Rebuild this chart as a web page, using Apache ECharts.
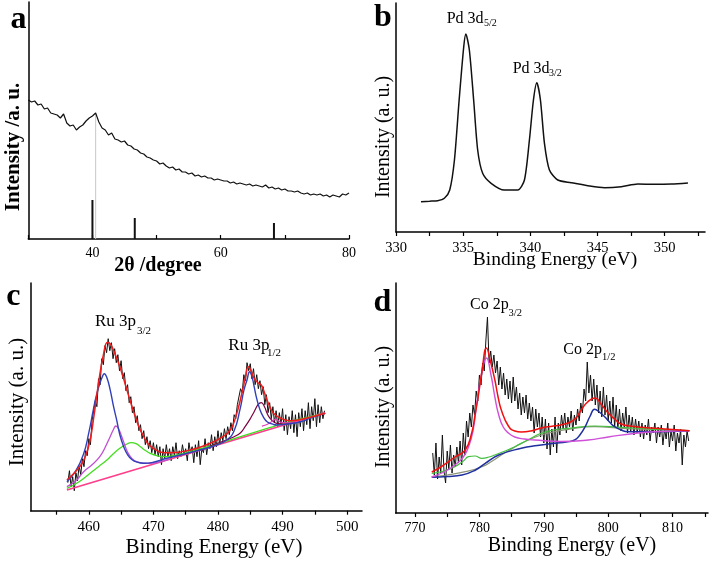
<!DOCTYPE html>
<html><head><meta charset="utf-8">
<script src="https://cdn.jsdelivr.net/npm/echarts@6/dist/echarts.min.js"></script>
<style>html,body{margin:0;padding:0;background:#fff}#c{width:713px;height:562px}</style>
</head><body><div id="c"></div>
<script>
// ---------- Panel a : XRD ----------
const xrdStart = 30, xrdStep = 0.5;
const xrdIntensity = [
 139,137,138,134,135,130,131,126,125,124,
 121,125,116,113,114,109,112,114,118,121,
 123,126,117,111,109,104,106,100,99,97,
 98,94,93,90,89,86,85,82,81,79,
 78,75,76,73,71,72,69,70,67,67,
 65,66,63,64,62,63,61,61,59,60,
 59,58,58,56,57,55,56,55,54,55,
 53,54,53,52,54,51,52,50,51,49,
 50,48,48,47,48,46,45,46,44,45,
 44,45,43,44,42,44,43,42,45,44,
 46];
const xrdRefPos = [40.0, 46.6, 68.3];
const xrdRefHeight = [39, 21, 16];
const xrdGuideX = 40.5, xrdGuideTop = 125;
const xrdTicks = [30,40,50,60,70,80];
const xrdLabels = [40,60,80];

// ---------- Panel b : Pd 3d ----------
const pdEnergy = [331.86,332.5,333.1,333.6,334.0,334.35,334.7,335.04,335.2,335.46,335.78,336.08,336.45,337.08,338.07,339.06,339.56,339.93,340.23,340.48,340.75,341.05,341.42,342.04,343.04,344.28,345.52,346.77,348,349.25,350.5,351.73];
const pdIntensity = [30.3,30.8,31.3,33.7,42,72,132,185,198,182,132,82,58.7,48.7,42,42,52,92,132,149.3,132,88.7,62,52,49.3,46.3,44.3,45.3,48,47.7,48,49];
const pdTicks = [330,332.5,335,337.5,340,342.5,345,347.5,350,352.5];
const pdLabels = [330,335,340,345,350];

// ---------- Panel c : Ru 3p ----------
const ruStart = 456.75, ruStep = 0.25;
const ruRaw = [
 28,40,24,34,20,38,30,45,36,52,
 44,60,55,72,66,90,88,110,104,132,
 126,152,146,165,158,172,160,168,152,162,
 148,156,140,150,132,138,120,126,108,114,
 98,104,88,95,80,86,72,80,66,74,
 62,70,58,68,56,66,54,64,46,62,
 52,66,54,62,50,64,55,68,52,60,
 54,66,56,62,50,68,58,64,48,66,
 54,70,46,62,58,72,56,68,62,76,
 60,74,64,80,66,78,70,82,72,84,
 76,88,80,96,92,106,104,122,118,136,
 130,148,140,147,132,142,126,136,122,130,
 116,124,106,116,98,108,92,104,88,100,
 84,98,86,102,80,96,76,94,82,100,
 78,96,74,98,84,102,80,100,86,108,
 82,104,90,112,84,106,88,104,92,100];
const ruEnvelope = [[456.6,30.7],[458.6,44],[459.5,55],[460.2,70.7],[460.8,95],[461.5,127.4],[462.3,157.4],[462.9,168.4],[463.3,167],[463.8,160.7],[464.8,144],[465.9,120.7],[467.2,94],[468.5,74],[470,62.4],[472.1,58],[475.7,60.7],[478.8,67.4],[480.5,73],[481.9,80.7],[482.8,95],[483.7,117.4],[484.3,135],[484.7,144],[485.1,140],[485.6,132.4],[486.2,128],[486.7,125.7],[487.2,118],[487.6,110.7],[488.1,103],[488.6,97.4],[489.7,92.4],[491.2,90],[493,91.5],[496.6,97.4]];
const ruMain = [[456.6,29],[458,40],[459.2,57],[460,78],[460.7,101],[461.2,116],[461.7,127],[462.1,134],[462.4,137],[462.8,133],[463.3,121],[463.8,105],[464.3,91],[464.8,76],[465.4,64],[466,56],[466.7,51],[467.5,48.5],[468.5,47.4],[470,48.5],[472.1,52.4],[475,57],[477.2,60.7],[479.5,65],[481.4,71],[482.5,80],[483.4,101],[484,120],[484.5,131],[484.9,139],[485.3,133],[485.6,124],[486,112],[486.5,101],[487,94],[487.6,89],[488.5,86.5],[489.1,85.7],[491,87],[492.8,89],[494.5,93],[496.6,97.4]];
const ruSecond = [[456.6,24],[458,30],[459.2,39],[460.5,46],[461.7,54],[462.5,63],[463.3,74],[463.8,81],[464.2,84.7],[464.6,82],[465.1,74],[465.6,65],[466.1,57.4],[466.7,52],[467.4,49],[468.4,47.5],[469.5,47.4],[471,48.8],[472.5,51.5]];
const ruSatellite = [[456.6,22.4],[458.5,29],[460.2,37.4],[461.5,44],[462.8,50.7],[463.8,57],[464.8,62.4],[465.7,66],[466.6,68],[467.3,67],[468,64],[468.7,60.5],[469.5,57.4],[470.5,55],[471.6,54],[473,55],[474.7,57.4],[477,61.5],[480,67],[483,73],[486,79],[488,83],[490.2,87.4],[493,92],[496.6,97.4]];
const ruThird = [[478.8,65],[481,70],[482.5,74],[483.5,78],[484.2,84],[485,92],[485.6,99],[486.2,106],[486.7,108],[487.2,104],[487.6,97.4],[488.1,92],[488.6,89],[489.3,87],[490.2,86.5],[491,87]];
const ruFourth = [[486.8,84.5],[487.5,86],[488.1,88],[488.5,90],[488.9,91.4],[489.3,90.2],[489.8,88.3],[490.5,87.8],[491.7,88.5]];
const ruBackground = [[456.6,20.7],[496.6,98]];
const ruTicks = [455,460,465,470,475,480,485,490,495,500];
const ruLabels = [460,470,480,490,500];

// ---------- Panel d : Co 2p ----------
const coStart = 772.75, coStep = 0.25;
const coRaw = [
 60,38,70,34,56,40,78,42,30,62,
 44,68,40,58,46,66,50,72,48,80,
 58,92,76,100,86,108,98,122,112,138,
 128,150,142,172,196,150,162,146,158,140,
 152,128,146,124,140,118,134,114,132,110,
 136,112,126,104,120,98,116,100,118,94,
 110,92,106,80,104,86,100,76,96,70,
 94,64,90,58,84,66,96,60,90,78,
 98,84,100,80,96,86,102,82,98,88,
 104,92,110,100,124,112,151,120,138,112,
 134,108,128,100,122,96,126,98,118,92,
 112,90,116,86,108,84,104,82,100,86,
 106,80,98,82,96,78,94,80,92,76,
 90,74,88,78,94,72,86,80,90,70,
 86,76,88,68,84,74,90,66,82,72,
 88,62,80,70,84,48,78,66,82,72];
const coEnvelope = [[772.6,41],[774,46],[776.2,56],[777.8,63],[778.8,80],[779.3,97],[779.8,116],[780.4,142],[781.1,165],[781.7,152],[782.4,133],[782.9,116],[783.4,103],[784.5,87],[785.5,82],[786.5,81],[788,82],[789.6,85],[791.5,87],[793.8,90],[795,95],[795.8,103],[796.8,111],[797.9,115],[799,108],[800,100],[801,94],[802,89],[804,86.5],[807.2,84.7],[810,83.5],[812.6,82.3]];
const coMain = [[772.6,36],[774.5,41],[776.2,48],[777.5,56],[778.3,66],[779,82],[779.6,110],[780.3,138],[781.1,155],[781.8,138],[782.4,116],[783,98],[783.7,86],[784.5,80],[785.5,76],[787,74],[788.6,73],[792.7,71.5],[796.9,73],[800,76],[804.6,80],[808,81.5],[812.6,82.3]];
const coSecond = [[772.6,35.7],[775,36.5],[777.3,38],[779.4,43],[780.9,49.7],[783,58],[786.5,64.7],[789,67.5],[791.7,69.7],[793.5,71],[794.8,73],[795.6,78],[796.4,86],[797.2,97],[797.9,103.7],[798.7,100.5],[799.5,96],[800.2,91],[801,86.3],[802,83],[803.1,81.3],[807.2,81.3],[812.6,82.3]];
const coSatellite = [[772.6,39.7],[774.5,42],[776.2,46.3],[777.5,52],[778.3,56.3],[779.3,57],[780.4,54.7],[781.5,56],[782.4,58],[784,62],[785.5,66.3],[787.5,73],[789.6,79.7],[791.5,83],[793.8,84.7],[797.9,87],[802,85.7],[807.2,83.7],[812.6,82.3]];
const coBackground = [[772.6,36.3],[775,38],[777.8,41.3],[780.4,46.3],[782,52],[783.4,58],[785,64],[786.5,69.7],[788,74],[789.6,78],[791.5,81],[793.8,83.7],[797.9,86.3],[802,84.7],[807,83.5],[812.6,82.3]];
const coTicks = [770,775,780,785,790,795,800,805,810,815];
const coLabels = [770,780,790,800,810];

// ---------- build ----------
const FONT = "'Liberation Serif','Times New Roman',serif";
const chart = echarts.init(document.getElementById('c'), null, {renderer:'canvas'});

const grids = [
  {left:28.3, top:2, width:320.7, height:237},
  {left:396, top:3, width:309, height:229},
  {left:30.7, top:283, width:331.3, height:227.7},
  {left:395.7, top:283, width:312.3, height:230}
];
const yMax = [237, 229, 227.7, 230];

function xAx(i, min, max, ticks, labels, inside, fs, margin) {
  return {
    type:'value', gridIndex:i, min, max,
    axisLine:{show:true, onZero:false, lineStyle:{color:'#000', width:1.5}},
    axisTick:{show:true, inside, length:4, customValues:ticks, lineStyle:{color:'#000', width:1.2}},
    axisLabel:{show:true, customValues:labels, color:'#000', fontFamily:FONT, fontSize:fs, margin},
    splitLine:{show:false}
  };
}
const xAxes = [
  xAx(0, 30, 80, xrdTicks, xrdLabels, true, 14, 7),
  xAx(1, 330, 353, pdTicks, pdLabels, false, 14.5, 9),
  xAx(2, 451, 502.3, ruTicks, ruLabels, false, 15, 9),
  xAx(3, 767, 815.5, coTicks, coLabels, false, 14, 8)
];
const yAxes = yMax.map((m, i) => ({
  type:'value', gridIndex:i, min:0, max:m,
  axisLine:{show:true, onZero:false, lineStyle:{color:'#000', width:1.5}},
  axisTick:{show:false}, axisLabel:{show:false}, splitLine:{show:false}
}));

function line(i, data, color, width, smooth, z) {
  return {type:'line', xAxisIndex:i, yAxisIndex:i, data, showSymbol:false, symbol:'none',
    smooth: smooth, lineStyle:{color, width}, z: z||2, animation:false, silent:true};
}
const xrdData = xrdIntensity.map((v, k) => [xrdStart + k*xrdStep, v]);
const ruData = ruRaw.map((v, k) => [ruStart + k*ruStep, v]);
const coData = coRaw.map((v, k) => [coStart + k*coStep, v]);
const pdData = pdEnergy.map((e, k) => [e, pdIntensity[k]]);
const xrdRefs = xrdRefPos.map((p, k) => [p, xrdRefHeight[k]]);

const series = [
  line(0, [[xrdGuideX, 0], [xrdGuideX, xrdGuideTop]], '#c8c8c8', 1, false, 1),
  line(0, xrdData, '#111', 1.2, false, 3),
  {type:'bar', xAxisIndex:0, yAxisIndex:0, data:xrdRefs, barWidth:2, itemStyle:{color:'#111'}, animation:false, silent:true},
  line(1, pdData, '#111', 1.5, 0.25, 3),
  line(2, ruData, '#111', 1, false, 2),
  line(2, ruBackground, '#ff3d8b', 1.6, false, 3),
  line(2, ruSatellite, '#44dd22', 1.3, true, 4),
  line(2, ruSecond, '#c050d0', 1.3, true, 4),
  line(2, ruThird, '#7a0040', 1.2, true, 4),
  line(2, ruFourth, '#e040b0', 1.2, true, 4),
  line(2, ruMain, '#3040b8', 1.4, true, 5),
  line(2, ruEnvelope, '#ee1c1c', 1.5, true, 6),
  line(3, coData, '#111', 1, false, 2),
  line(3, coBackground, '#8c9478', 1.2, true, 3),
  line(3, coSatellite, '#44c040', 1.2, true, 4),
  line(3, coSecond, '#1f2f9f', 1.5, true, 4),
  line(3, coMain, '#d050d8', 1.4, true, 5),
  line(3, coEnvelope, '#f01010', 1.5, true, 6)
];

function txt(s, x, y, size, o) {
  o = o || {};
  const al = o.align || 'left';
  return {type:'text', x, y, rotation:o.rot||0, z:100, silent:true,
    style:{text:s, fontSize:size, fontFamily:FONT, fontWeight:o.bold?'bold':'normal', fill:'#000',
      align:al, verticalAlign:'middle', textAlign:al, textVerticalAlign:'middle'}};
}
const R = Math.PI/2;
const graphic = [
  txt('a', 18.5, 19.5, 32, {bold:true, align:'center'}),
  txt('b', 383, 17.5, 32, {bold:true, align:'center'}),
  txt('c', 13.3, 296.5, 32, {bold:true, align:'center'}),
  txt('d', 382.5, 302.5, 32, {bold:true, align:'center'}),
  txt('2θ /degree', 158, 266, 20, {bold:true, align:'center'}),
  txt('Intensity /a. u.', 14, 147, 21, {bold:true, align:'center', rot:R}),
  txt('Binding Energy (eV)', 555, 260, 19.5, {align:'center'}),
  txt('Intensity (a. u.)', 384, 137, 20, {align:'center', rot:R}),
  txt('Binding Energy (eV)', 214, 547, 21, {align:'center'}),
  txt('Intensity (a. u.)', 17.5, 402, 21, {align:'center', rot:R}),
  txt('Binding Energy (eV)', 572, 546, 20, {align:'center'}),
  txt('Intensity (a. u.)', 383.5, 407, 20, {align:'center', rot:R}),
  txt('Pd 3d', 446.7, 18.3, 16), txt('5/2', 484, 23.5, 10),
  txt('Pd 3d', 512.7, 68.3, 16), txt('3/2', 549, 73.5, 10),
  txt('Ru 3p', 95, 321.7, 17), txt('3/2', 137, 331, 11),
  txt('Ru 3p', 228.3, 346, 17), txt('1/2', 267, 353.5, 11),
  txt('Co 2p', 470, 305, 16), txt('3/2', 508.5, 313, 10.5),
  txt('Co 2p', 563.3, 350, 16), txt('1/2', 602, 357, 10.5)
];

chart.setOption({
  animation:false,
  backgroundColor:'#fff',
  grid: grids.map(g => Object.assign({containLabel:false, outerBoundsMode:'none'}, g)),
  xAxis: xAxes, yAxis: yAxes, series, graphic
});
</script></body></html>
